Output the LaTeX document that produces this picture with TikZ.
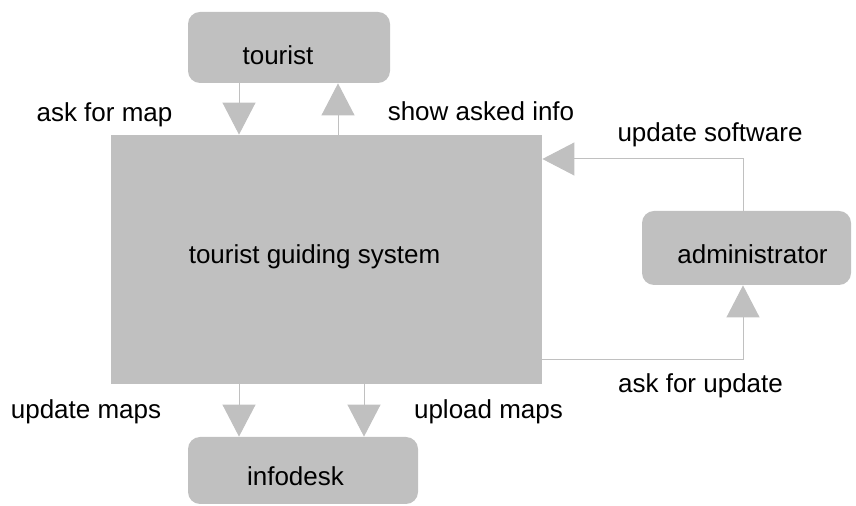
\documentclass[tikz,border=0pt]{standalone}
\usepackage{fontspec}
\setmainfont{Liberation Sans}
\usetikzlibrary{arrows.meta}

\definecolor{boxgray}{RGB}{192,192,192}

\begin{document}
\begin{tikzpicture}[x=0.5pt, y=-0.5pt,
    every node/.style={font=\fontsize{13pt}{15.6pt}\selectfont},
    actorbox/.style={fill=boxgray, rounded corners=6pt, inner sep=0pt},
    systembox/.style={fill=boxgray, inner sep=0pt},
    boxtext/.style={anchor=base},
    flow/.style={draw=boxgray, line width=0.5pt, -{Triangle[width=\tipw pt, length=\tiplen pt]}},
    flowlabel/.style={anchor=base}
  ]
   % Sizes
   \pgfmathsetmacro{\tipw}{16.5}
   \pgfmathsetmacro{\tiplen}{16}
   \useasboundingbox (0,0) rectangle (856,506);

   % boxes
   \node[actorbox, minimum width=101pt, minimum height=35.5pt,
     label={[boxtext, xshift=-5.5pt, yshift=-3.75pt]center:tourist}] (tourist) at (289,47.5) {};
   \node[systembox, minimum width=215.5pt, minimum height=124.5pt,
     label={[boxtext, xshift=-6pt, yshift=1.4pt]center:tourist guiding system}] (tgs) at (326.5,259.5) {};
   \node[actorbox, minimum width=104.5pt, minimum height=37pt,
     label={[boxtext, xshift=3pt, yshift=-3pt]center:administrator}] (admin) at (746.5,248) {};
   \node[actorbox, minimum width=115pt, minimum height=33.5pt,
     label={[boxtext, xshift=-3.75pt, yshift=-3.1pt]center:infodesk}] (infodesk) at (303,470.5) {};

   % columns and rows of the connectors
   \coordinate (mapcol) at (239,0);
   \coordinate (infocol) at (338,0);
   \coordinate (uplcol) at (364,0);
   \coordinate (admcol) at (743,0);
   \coordinate (swrow) at (0,159);
   \coordinate (reqrow) at (0,360);

   % draw diagram
   \draw[flow] (tourist.south -| mapcol) -- (tgs.north -| mapcol);
   \draw[flow] (tgs.north -| infocol) -- (tourist.south -| infocol);
   \draw[flow] (admin.north -| admcol) |- (tgs.east |- swrow);
   \draw[flow] (tgs.east |- reqrow) -| (admin.south -| admcol);
   \draw[flow] (tgs.south -| mapcol) -- (infodesk.north -| mapcol);
   \draw[flow] (tgs.south -| uplcol) -- (infodesk.north -| uplcol);

   % labels
   \node[flowlabel] (askmap) at (104.5,122) {ask for map};
   \node[flowlabel] (showinfo) at (481,121) {show asked info};
   \node[flowlabel] (updsw) at (710,142) {update software};
   \node[flowlabel] (askupd) at (700.5,393) {ask for update};
   \node[flowlabel] (updmaps) at (86,419) {update maps};
   \node[flowlabel] (uplmaps) at (488.5,419) {upload maps};
\end{tikzpicture}
\end{document}
